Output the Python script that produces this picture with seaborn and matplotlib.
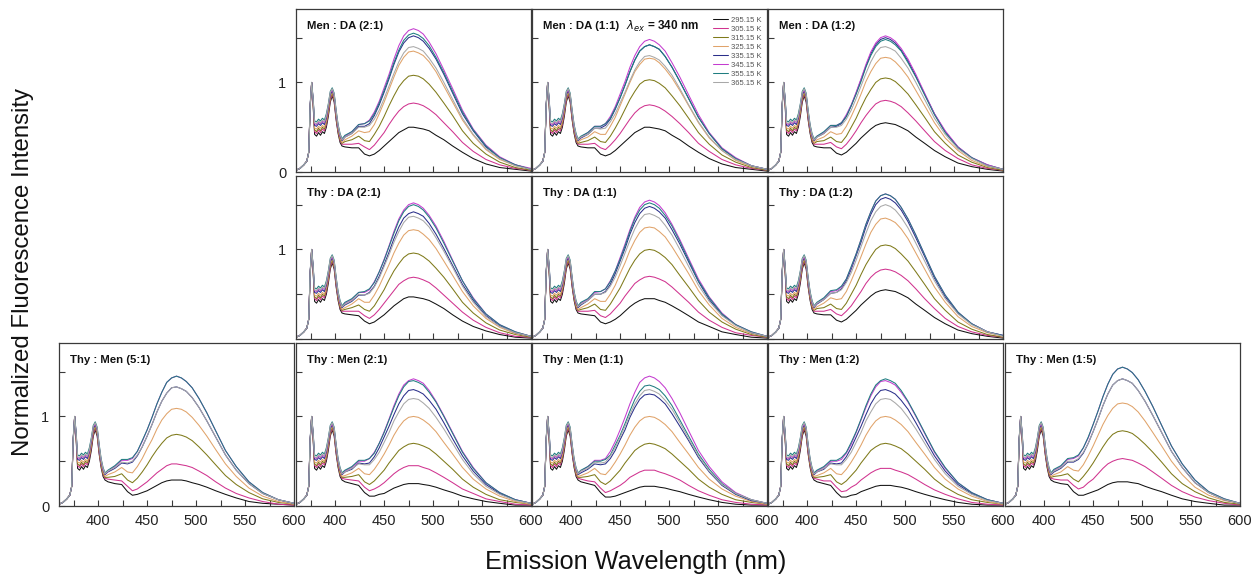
import matplotlib
matplotlib.use("Agg")
import matplotlib.pyplot as plt
import seaborn as sns

# ---------------- data ----------------
TEMPS = ["295.15 K", "305.15 K", "315.15 K", "325.15 K",
         "335.15 K", "345.15 K", "355.15 K", "365.15 K"]
COLORS = ["#111111", "#d0338f", "#7f7a1a", "#e0a36a",
          "#2a2f8a", "#c43ccf", "#1f7d80", "#a8a8a8"]

# monomer region (same for every panel, one list per temperature)
WL_MONO = [360, 364, 368, 371, 373, 374.5, 376, 377.5, 379, 381, 383, 385, 387,
           389, 391, 393, 395, 397, 399, 401, 403, 405, 407]
MONO = [
    [0.02, 0.04, 0.08, 0.12, 0.22, 0.72, 1.00, 0.74, 0.42, 0.40, 0.44, 0.41, 0.45, 0.43, 0.50, 0.62, 0.78, 0.85, 0.78, 0.58, 0.43, 0.33, 0.29],
    [0.02, 0.04, 0.08, 0.12, 0.22, 0.73, 1.00, 0.76, 0.45, 0.43, 0.47, 0.44, 0.48, 0.46, 0.53, 0.65, 0.80, 0.87, 0.80, 0.60, 0.45, 0.35, 0.31],
    [0.02, 0.04, 0.08, 0.12, 0.22, 0.74, 1.00, 0.77, 0.47, 0.45, 0.49, 0.46, 0.50, 0.48, 0.55, 0.67, 0.82, 0.88, 0.81, 0.62, 0.46, 0.36, 0.32],
    [0.02, 0.04, 0.08, 0.12, 0.22, 0.74, 1.00, 0.78, 0.49, 0.48, 0.51, 0.49, 0.52, 0.50, 0.57, 0.69, 0.84, 0.90, 0.83, 0.64, 0.48, 0.38, 0.33],
    [0.02, 0.04, 0.08, 0.12, 0.22, 0.75, 1.00, 0.80, 0.52, 0.51, 0.54, 0.52, 0.55, 0.53, 0.60, 0.72, 0.86, 0.91, 0.85, 0.66, 0.50, 0.40, 0.35],
    [0.02, 0.04, 0.08, 0.12, 0.22, 0.75, 1.00, 0.81, 0.54, 0.53, 0.56, 0.54, 0.57, 0.55, 0.62, 0.74, 0.88, 0.92, 0.86, 0.67, 0.51, 0.41, 0.36],
    [0.02, 0.04, 0.08, 0.12, 0.22, 0.76, 1.00, 0.82, 0.57, 0.56, 0.59, 0.57, 0.60, 0.58, 0.65, 0.76, 0.90, 0.94, 0.88, 0.69, 0.53, 0.43, 0.37],
    [0.02, 0.04, 0.08, 0.12, 0.22, 0.75, 1.00, 0.81, 0.55, 0.54, 0.57, 0.55, 0.58, 0.56, 0.63, 0.75, 0.89, 0.93, 0.87, 0.68, 0.52, 0.42, 0.36],
]

# excimer band region, one block per panel, one list per temperature
WL_BAND = [410, 417, 424, 430, 435, 440, 445, 450, 455, 460, 465, 470, 475,
           480, 485, 490, 496, 503, 511, 520, 530, 541, 554, 568, 584, 600]

MEN_DA_2_1 = [
    [0.28, 0.27, 0.27, 0.20, 0.18, 0.20, 0.24, 0.29, 0.34, 0.39, 0.44, 0.47, 0.50, 0.50, 0.49, 0.48, 0.46, 0.41, 0.36, 0.29, 0.22, 0.15, 0.09, 0.05, 0.03, 0.01],
    [0.31, 0.31, 0.32, 0.28, 0.25, 0.30, 0.37, 0.44, 0.53, 0.61, 0.68, 0.73, 0.76, 0.77, 0.76, 0.74, 0.70, 0.64, 0.55, 0.45, 0.33, 0.23, 0.14, 0.08, 0.04, 0.02],
    [0.34, 0.36, 0.40, 0.35, 0.34, 0.42, 0.51, 0.62, 0.74, 0.85, 0.95, 1.02, 1.07, 1.08, 1.07, 1.04, 0.98, 0.89, 0.77, 0.63, 0.46, 0.32, 0.20, 0.11, 0.05, 0.02],
    [0.36, 0.40, 0.46, 0.44, 0.45, 0.53, 0.65, 0.78, 0.92, 1.06, 1.19, 1.28, 1.34, 1.35, 1.33, 1.30, 1.23, 1.12, 0.96, 0.78, 0.58, 0.41, 0.25, 0.14, 0.07, 0.03],
    [0.39, 0.43, 0.51, 0.51, 0.54, 0.63, 0.75, 0.89, 1.04, 1.20, 1.34, 1.44, 1.50, 1.52, 1.50, 1.46, 1.38, 1.26, 1.09, 0.88, 0.65, 0.46, 0.28, 0.16, 0.08, 0.03],
    [0.40, 0.45, 0.53, 0.54, 0.58, 0.67, 0.79, 0.94, 1.09, 1.26, 1.41, 1.52, 1.58, 1.60, 1.58, 1.54, 1.45, 1.32, 1.14, 0.93, 0.69, 0.48, 0.30, 0.17, 0.08, 0.04],
    [0.41, 0.45, 0.53, 0.54, 0.57, 0.65, 0.77, 0.91, 1.06, 1.22, 1.36, 1.47, 1.53, 1.55, 1.53, 1.49, 1.41, 1.28, 1.11, 0.90, 0.67, 0.47, 0.29, 0.16, 0.08, 0.03],
    [0.39, 0.43, 0.50, 0.50, 0.52, 0.59, 0.69, 0.82, 0.96, 1.10, 1.23, 1.33, 1.39, 1.40, 1.38, 1.35, 1.27, 1.16, 1.00, 0.81, 0.60, 0.42, 0.26, 0.15, 0.07, 0.03],
]
MEN_DA_1_1 = [
    [0.28, 0.27, 0.27, 0.20, 0.18, 0.20, 0.24, 0.29, 0.34, 0.39, 0.44, 0.47, 0.50, 0.50, 0.49, 0.48, 0.46, 0.41, 0.36, 0.29, 0.22, 0.15, 0.09, 0.05, 0.03, 0.01],
    [0.31, 0.31, 0.32, 0.27, 0.25, 0.30, 0.36, 0.43, 0.51, 0.59, 0.66, 0.71, 0.74, 0.75, 0.74, 0.72, 0.68, 0.62, 0.54, 0.44, 0.32, 0.23, 0.14, 0.08, 0.04, 0.02],
    [0.33, 0.35, 0.39, 0.34, 0.33, 0.40, 0.49, 0.59, 0.70, 0.81, 0.90, 0.98, 1.02, 1.03, 1.02, 0.99, 0.94, 0.85, 0.74, 0.60, 0.44, 0.31, 0.19, 0.11, 0.05, 0.02],
    [0.36, 0.39, 0.45, 0.42, 0.42, 0.51, 0.61, 0.74, 0.87, 1.00, 1.12, 1.20, 1.26, 1.27, 1.26, 1.22, 1.15, 1.05, 0.91, 0.74, 0.55, 0.38, 0.24, 0.13, 0.06, 0.03],
    [0.38, 0.42, 0.49, 0.49, 0.52, 0.59, 0.70, 0.83, 0.97, 1.12, 1.25, 1.35, 1.40, 1.42, 1.40, 1.37, 1.29, 1.17, 1.01, 0.82, 0.61, 0.43, 0.26, 0.15, 0.07, 0.03],
    [0.39, 0.44, 0.51, 0.51, 0.54, 0.62, 0.73, 0.87, 1.01, 1.17, 1.30, 1.40, 1.46, 1.48, 1.46, 1.42, 1.35, 1.22, 1.06, 0.86, 0.64, 0.44, 0.27, 0.16, 0.07, 0.03],
    [0.40, 0.44, 0.51, 0.51, 0.54, 0.60, 0.71, 0.83, 0.97, 1.12, 1.25, 1.35, 1.40, 1.42, 1.40, 1.37, 1.29, 1.17, 1.01, 0.82, 0.61, 0.43, 0.26, 0.15, 0.07, 0.03],
    [0.39, 0.42, 0.49, 0.48, 0.49, 0.56, 0.65, 0.77, 0.89, 1.02, 1.14, 1.23, 1.29, 1.30, 1.28, 1.25, 1.18, 1.08, 0.93, 0.75, 0.56, 0.39, 0.24, 0.14, 0.07, 0.03],
]
MEN_DA_1_2 = [
    [0.28, 0.27, 0.27, 0.21, 0.19, 0.22, 0.27, 0.32, 0.38, 0.43, 0.48, 0.52, 0.54, 0.55, 0.54, 0.53, 0.50, 0.46, 0.39, 0.32, 0.24, 0.17, 0.10, 0.06, 0.03, 0.01],
    [0.31, 0.31, 0.33, 0.28, 0.26, 0.31, 0.38, 0.46, 0.55, 0.63, 0.70, 0.76, 0.79, 0.80, 0.79, 0.77, 0.73, 0.66, 0.57, 0.46, 0.34, 0.24, 0.15, 0.08, 0.04, 0.02],
    [0.34, 0.35, 0.39, 0.34, 0.33, 0.40, 0.50, 0.60, 0.72, 0.83, 0.92, 1.00, 1.04, 1.05, 1.04, 1.01, 0.95, 0.87, 0.75, 0.61, 0.45, 0.32, 0.19, 0.11, 0.05, 0.02],
    [0.36, 0.39, 0.45, 0.42, 0.43, 0.51, 0.62, 0.74, 0.87, 1.01, 1.12, 1.21, 1.27, 1.28, 1.27, 1.23, 1.16, 1.06, 0.91, 0.74, 0.55, 0.38, 0.24, 0.13, 0.06, 0.03],
    [0.39, 0.43, 0.50, 0.51, 0.54, 0.62, 0.74, 0.88, 1.03, 1.18, 1.32, 1.42, 1.48, 1.50, 1.48, 1.44, 1.36, 1.24, 1.07, 0.87, 0.65, 0.45, 0.28, 0.16, 0.08, 0.03],
    [0.40, 0.44, 0.52, 0.52, 0.55, 0.64, 0.75, 0.89, 1.04, 1.20, 1.34, 1.44, 1.50, 1.52, 1.50, 1.46, 1.38, 1.26, 1.09, 0.88, 0.65, 0.46, 0.28, 0.16, 0.08, 0.03],
    [0.40, 0.45, 0.52, 0.52, 0.55, 0.62, 0.74, 0.87, 1.01, 1.17, 1.30, 1.40, 1.46, 1.48, 1.46, 1.42, 1.35, 1.22, 1.06, 0.86, 0.64, 0.44, 0.27, 0.16, 0.07, 0.03],
    [0.39, 0.43, 0.50, 0.50, 0.52, 0.59, 0.69, 0.82, 0.96, 1.10, 1.23, 1.33, 1.39, 1.40, 1.38, 1.35, 1.27, 1.16, 1.00, 0.81, 0.60, 0.42, 0.26, 0.15, 0.07, 0.03],
]
THY_DA_2_1 = [
    [0.28, 0.27, 0.26, 0.20, 0.17, 0.19, 0.23, 0.27, 0.32, 0.37, 0.41, 0.45, 0.47, 0.47, 0.46, 0.45, 0.43, 0.39, 0.34, 0.27, 0.20, 0.14, 0.09, 0.05, 0.02, 0.01],
    [0.31, 0.31, 0.31, 0.26, 0.23, 0.27, 0.33, 0.40, 0.47, 0.54, 0.61, 0.65, 0.68, 0.69, 0.68, 0.66, 0.63, 0.57, 0.49, 0.40, 0.30, 0.21, 0.13, 0.07, 0.03, 0.02],
    [0.33, 0.35, 0.38, 0.33, 0.31, 0.37, 0.46, 0.55, 0.66, 0.76, 0.84, 0.91, 0.95, 0.96, 0.95, 0.92, 0.87, 0.79, 0.69, 0.56, 0.41, 0.29, 0.18, 0.10, 0.05, 0.02],
    [0.35, 0.39, 0.45, 0.41, 0.41, 0.49, 0.59, 0.71, 0.83, 0.96, 1.07, 1.16, 1.21, 1.22, 1.21, 1.17, 1.11, 1.01, 0.87, 0.71, 0.53, 0.37, 0.23, 0.13, 0.06, 0.03],
    [0.38, 0.42, 0.49, 0.49, 0.52, 0.59, 0.70, 0.83, 0.97, 1.12, 1.25, 1.35, 1.40, 1.42, 1.40, 1.37, 1.29, 1.17, 1.01, 0.82, 0.61, 0.43, 0.26, 0.15, 0.07, 0.03],
    [0.40, 0.44, 0.52, 0.52, 0.55, 0.64, 0.75, 0.89, 1.04, 1.20, 1.34, 1.44, 1.50, 1.52, 1.50, 1.46, 1.38, 1.26, 1.09, 0.88, 0.65, 0.46, 0.28, 0.16, 0.08, 0.03],
    [0.41, 0.45, 0.52, 0.53, 0.56, 0.63, 0.75, 0.88, 1.03, 1.18, 1.32, 1.42, 1.48, 1.50, 1.48, 1.44, 1.36, 1.24, 1.07, 0.87, 0.65, 0.45, 0.28, 0.16, 0.08, 0.03],
    [0.39, 0.43, 0.50, 0.49, 0.51, 0.58, 0.68, 0.81, 0.94, 1.08, 1.20, 1.30, 1.36, 1.37, 1.35, 1.32, 1.25, 1.13, 0.98, 0.80, 0.59, 0.41, 0.25, 0.14, 0.07, 0.03],
]
THY_DA_1_1 = [
    [0.28, 0.27, 0.26, 0.19, 0.17, 0.19, 0.22, 0.26, 0.31, 0.36, 0.40, 0.43, 0.45, 0.45, 0.45, 0.43, 0.41, 0.37, 0.32, 0.26, 0.19, 0.14, 0.08, 0.05, 0.02, 0.01],
    [0.31, 0.31, 0.32, 0.26, 0.24, 0.28, 0.34, 0.40, 0.48, 0.55, 0.62, 0.66, 0.69, 0.70, 0.69, 0.67, 0.64, 0.58, 0.50, 0.41, 0.30, 0.21, 0.13, 0.07, 0.04, 0.02],
    [0.33, 0.35, 0.39, 0.33, 0.32, 0.39, 0.48, 0.57, 0.68, 0.79, 0.88, 0.95, 0.99, 1.00, 0.99, 0.96, 0.91, 0.83, 0.71, 0.58, 0.43, 0.30, 0.19, 0.11, 0.05, 0.02],
    [0.35, 0.39, 0.45, 0.42, 0.42, 0.50, 0.60, 0.73, 0.85, 0.99, 1.10, 1.19, 1.24, 1.25, 1.24, 1.20, 1.14, 1.03, 0.89, 0.73, 0.54, 0.38, 0.23, 0.13, 0.06, 0.03],
    [0.38, 0.43, 0.50, 0.50, 0.53, 0.61, 0.73, 0.87, 1.01, 1.17, 1.30, 1.40, 1.46, 1.48, 1.46, 1.42, 1.35, 1.22, 1.06, 0.86, 0.64, 0.44, 0.27, 0.16, 0.07, 0.03],
    [0.40, 0.44, 0.52, 0.53, 0.56, 0.65, 0.76, 0.91, 1.06, 1.22, 1.36, 1.47, 1.53, 1.55, 1.53, 1.49, 1.41, 1.28, 1.11, 0.90, 0.67, 0.47, 0.29, 0.16, 0.08, 0.03],
    [0.41, 0.45, 0.53, 0.53, 0.56, 0.64, 0.76, 0.89, 1.04, 1.20, 1.34, 1.44, 1.50, 1.52, 1.50, 1.46, 1.38, 1.26, 1.09, 0.88, 0.65, 0.46, 0.28, 0.16, 0.08, 0.03],
    [0.39, 0.43, 0.50, 0.50, 0.52, 0.59, 0.69, 0.82, 0.96, 1.10, 1.23, 1.33, 1.39, 1.40, 1.38, 1.35, 1.27, 1.16, 1.00, 0.81, 0.60, 0.42, 0.26, 0.15, 0.07, 0.03],
]
THY_DA_1_2 = [
    [0.28, 0.27, 0.27, 0.21, 0.19, 0.22, 0.27, 0.32, 0.38, 0.43, 0.48, 0.52, 0.54, 0.55, 0.54, 0.53, 0.50, 0.46, 0.39, 0.32, 0.24, 0.17, 0.10, 0.06, 0.03, 0.01],
    [0.31, 0.31, 0.33, 0.28, 0.26, 0.31, 0.37, 0.45, 0.53, 0.62, 0.69, 0.74, 0.77, 0.78, 0.77, 0.75, 0.71, 0.65, 0.56, 0.45, 0.34, 0.23, 0.14, 0.08, 0.04, 0.02],
    [0.34, 0.35, 0.39, 0.34, 0.33, 0.40, 0.50, 0.60, 0.72, 0.83, 0.92, 1.00, 1.04, 1.05, 1.04, 1.01, 0.95, 0.87, 0.75, 0.61, 0.45, 0.32, 0.19, 0.11, 0.05, 0.02],
    [0.36, 0.40, 0.46, 0.44, 0.45, 0.53, 0.65, 0.78, 0.92, 1.06, 1.19, 1.28, 1.34, 1.35, 1.33, 1.30, 1.23, 1.12, 0.96, 0.78, 0.58, 0.41, 0.25, 0.14, 0.07, 0.03],
    [0.39, 0.44, 0.51, 0.52, 0.56, 0.65, 0.78, 0.93, 1.08, 1.25, 1.39, 1.50, 1.56, 1.58, 1.56, 1.52, 1.44, 1.31, 1.13, 0.92, 0.68, 0.47, 0.29, 0.17, 0.08, 0.04],
    [0.40, 0.45, 0.53, 0.54, 0.58, 0.67, 0.80, 0.95, 1.11, 1.28, 1.42, 1.54, 1.60, 1.62, 1.60, 1.56, 1.47, 1.34, 1.16, 0.94, 0.70, 0.49, 0.30, 0.17, 0.08, 0.04],
    [0.41, 0.46, 0.54, 0.55, 0.59, 0.67, 0.81, 0.95, 1.11, 1.28, 1.42, 1.54, 1.60, 1.62, 1.60, 1.56, 1.47, 1.34, 1.16, 0.94, 0.70, 0.49, 0.30, 0.17, 0.08, 0.04],
    [0.40, 0.44, 0.51, 0.52, 0.55, 0.63, 0.74, 0.88, 1.03, 1.18, 1.32, 1.42, 1.48, 1.50, 1.48, 1.44, 1.36, 1.24, 1.07, 0.87, 0.65, 0.45, 0.28, 0.16, 0.08, 0.03],
]
THY_MEN_5_1 = [
    [0.27, 0.25, 0.24, 0.16, 0.12, 0.13, 0.15, 0.17, 0.20, 0.23, 0.26, 0.28, 0.29, 0.29, 0.29, 0.28, 0.26, 0.24, 0.21, 0.17, 0.13, 0.09, 0.05, 0.03, 0.02, 0.01],
    [0.30, 0.29, 0.28, 0.22, 0.17, 0.19, 0.23, 0.27, 0.32, 0.37, 0.41, 0.45, 0.47, 0.47, 0.46, 0.45, 0.43, 0.39, 0.34, 0.27, 0.20, 0.14, 0.09, 0.05, 0.02, 0.01],
    [0.32, 0.33, 0.36, 0.29, 0.26, 0.31, 0.38, 0.46, 0.55, 0.63, 0.70, 0.76, 0.79, 0.80, 0.79, 0.77, 0.73, 0.66, 0.57, 0.46, 0.34, 0.24, 0.15, 0.08, 0.04, 0.02],
    [0.35, 0.38, 0.43, 0.38, 0.37, 0.44, 0.53, 0.64, 0.74, 0.86, 0.96, 1.03, 1.08, 1.09, 1.08, 1.05, 0.99, 0.90, 0.78, 0.63, 0.47, 0.33, 0.20, 0.11, 0.05, 0.02],
    [0.38, 0.42, 0.48, 0.47, 0.49, 0.56, 0.66, 0.78, 0.91, 1.05, 1.17, 1.26, 1.32, 1.33, 1.31, 1.28, 1.21, 1.10, 0.95, 0.77, 0.57, 0.40, 0.25, 0.14, 0.07, 0.03],
    [0.39, 0.44, 0.51, 0.51, 0.53, 0.61, 0.72, 0.85, 0.99, 1.14, 1.27, 1.38, 1.43, 1.45, 1.43, 1.39, 1.32, 1.20, 1.04, 0.84, 0.62, 0.44, 0.27, 0.15, 0.07, 0.03],
    [0.40, 0.45, 0.52, 0.52, 0.54, 0.61, 0.73, 0.85, 0.99, 1.14, 1.27, 1.38, 1.43, 1.45, 1.43, 1.39, 1.32, 1.20, 1.04, 0.84, 0.62, 0.44, 0.27, 0.15, 0.07, 0.03],
    [0.39, 0.43, 0.49, 0.48, 0.50, 0.57, 0.66, 0.78, 0.91, 1.05, 1.17, 1.26, 1.32, 1.33, 1.31, 1.28, 1.21, 1.10, 0.95, 0.77, 0.57, 0.40, 0.25, 0.14, 0.07, 0.03],
]
THY_MEN_2_1 = [
    [0.27, 0.25, 0.23, 0.15, 0.11, 0.11, 0.13, 0.14, 0.17, 0.20, 0.22, 0.24, 0.25, 0.25, 0.25, 0.24, 0.23, 0.21, 0.18, 0.15, 0.11, 0.08, 0.05, 0.03, 0.01, 0.01],
    [0.30, 0.29, 0.28, 0.21, 0.17, 0.19, 0.22, 0.26, 0.31, 0.36, 0.40, 0.43, 0.45, 0.45, 0.45, 0.43, 0.41, 0.37, 0.32, 0.26, 0.19, 0.14, 0.08, 0.05, 0.02, 0.01],
    [0.32, 0.33, 0.35, 0.27, 0.24, 0.28, 0.34, 0.40, 0.48, 0.55, 0.62, 0.66, 0.69, 0.70, 0.69, 0.67, 0.64, 0.58, 0.50, 0.41, 0.30, 0.21, 0.13, 0.07, 0.04, 0.02],
    [0.34, 0.37, 0.42, 0.36, 0.35, 0.41, 0.49, 0.58, 0.68, 0.79, 0.88, 0.95, 0.99, 1.00, 0.99, 0.96, 0.91, 0.83, 0.71, 0.58, 0.43, 0.30, 0.19, 0.11, 0.05, 0.02],
    [0.38, 0.41, 0.48, 0.47, 0.48, 0.55, 0.65, 0.77, 0.89, 1.02, 1.14, 1.23, 1.29, 1.30, 1.28, 1.25, 1.18, 1.08, 0.93, 0.75, 0.56, 0.39, 0.24, 0.14, 0.07, 0.03],
    [0.39, 0.43, 0.50, 0.50, 0.53, 0.60, 0.70, 0.83, 0.97, 1.12, 1.25, 1.35, 1.40, 1.42, 1.40, 1.37, 1.29, 1.17, 1.01, 0.82, 0.61, 0.43, 0.26, 0.15, 0.07, 0.03],
    [0.40, 0.44, 0.51, 0.51, 0.53, 0.59, 0.70, 0.82, 0.96, 1.10, 1.23, 1.33, 1.39, 1.40, 1.38, 1.35, 1.27, 1.16, 1.00, 0.81, 0.60, 0.42, 0.26, 0.15, 0.07, 0.03],
    [0.38, 0.42, 0.47, 0.46, 0.46, 0.52, 0.60, 0.71, 0.82, 0.95, 1.05, 1.14, 1.19, 1.20, 1.19, 1.15, 1.09, 0.99, 0.86, 0.70, 0.52, 0.36, 0.22, 0.13, 0.06, 0.03],
]
THY_MEN_1_1 = [
    [0.27, 0.25, 0.23, 0.15, 0.10, 0.10, 0.11, 0.13, 0.15, 0.17, 0.19, 0.21, 0.22, 0.22, 0.22, 0.21, 0.20, 0.18, 0.16, 0.13, 0.10, 0.07, 0.04, 0.02, 0.01, 0.01],
    [0.30, 0.28, 0.27, 0.20, 0.15, 0.17, 0.20, 0.23, 0.27, 0.32, 0.35, 0.38, 0.40, 0.40, 0.40, 0.38, 0.36, 0.33, 0.29, 0.23, 0.17, 0.12, 0.07, 0.04, 0.02, 0.01],
    [0.32, 0.33, 0.35, 0.27, 0.24, 0.28, 0.34, 0.40, 0.48, 0.55, 0.62, 0.66, 0.69, 0.70, 0.69, 0.67, 0.64, 0.58, 0.50, 0.41, 0.30, 0.21, 0.13, 0.07, 0.04, 0.02],
    [0.34, 0.37, 0.42, 0.36, 0.35, 0.41, 0.49, 0.58, 0.68, 0.79, 0.88, 0.95, 0.99, 1.00, 0.99, 0.96, 0.91, 0.83, 0.71, 0.58, 0.43, 0.30, 0.19, 0.11, 0.05, 0.02],
    [0.37, 0.41, 0.47, 0.46, 0.47, 0.53, 0.62, 0.74, 0.85, 0.99, 1.10, 1.19, 1.24, 1.25, 1.24, 1.20, 1.14, 1.03, 0.89, 0.73, 0.54, 0.38, 0.23, 0.13, 0.06, 0.03],
    [0.39, 0.44, 0.51, 0.51, 0.53, 0.61, 0.72, 0.85, 0.99, 1.14, 1.27, 1.38, 1.43, 1.45, 1.43, 1.39, 1.32, 1.20, 1.04, 0.84, 0.62, 0.44, 0.27, 0.15, 0.07, 0.03],
    [0.40, 0.44, 0.50, 0.50, 0.52, 0.57, 0.68, 0.79, 0.92, 1.06, 1.19, 1.28, 1.34, 1.35, 1.33, 1.30, 1.23, 1.12, 0.96, 0.78, 0.58, 0.41, 0.25, 0.14, 0.07, 0.03],
    [0.39, 0.42, 0.49, 0.48, 0.49, 0.56, 0.65, 0.77, 0.89, 1.02, 1.14, 1.23, 1.29, 1.30, 1.28, 1.25, 1.18, 1.08, 0.93, 0.75, 0.56, 0.39, 0.24, 0.14, 0.07, 0.03],
]
THY_MEN_1_2 = [
    [0.27, 0.25, 0.23, 0.15, 0.10, 0.10, 0.12, 0.13, 0.16, 0.18, 0.20, 0.22, 0.23, 0.23, 0.23, 0.22, 0.21, 0.19, 0.16, 0.13, 0.10, 0.07, 0.04, 0.02, 0.01, 0.01],
    [0.30, 0.28, 0.28, 0.21, 0.16, 0.17, 0.21, 0.24, 0.29, 0.33, 0.37, 0.40, 0.42, 0.42, 0.42, 0.40, 0.38, 0.35, 0.30, 0.24, 0.18, 0.13, 0.08, 0.04, 0.02, 0.01],
    [0.32, 0.33, 0.35, 0.27, 0.24, 0.28, 0.34, 0.40, 0.48, 0.55, 0.62, 0.66, 0.69, 0.70, 0.69, 0.67, 0.64, 0.58, 0.50, 0.41, 0.30, 0.21, 0.13, 0.07, 0.04, 0.02],
    [0.34, 0.37, 0.42, 0.36, 0.35, 0.41, 0.49, 0.58, 0.68, 0.79, 0.88, 0.95, 0.99, 1.00, 0.99, 0.96, 0.91, 0.83, 0.71, 0.58, 0.43, 0.30, 0.19, 0.11, 0.05, 0.02],
    [0.38, 0.41, 0.48, 0.47, 0.48, 0.55, 0.65, 0.77, 0.89, 1.02, 1.14, 1.23, 1.29, 1.30, 1.28, 1.25, 1.18, 1.08, 0.93, 0.75, 0.56, 0.39, 0.24, 0.14, 0.07, 0.03],
    [0.39, 0.43, 0.50, 0.50, 0.52, 0.59, 0.69, 0.82, 0.96, 1.10, 1.23, 1.33, 1.39, 1.40, 1.38, 1.35, 1.27, 1.16, 1.00, 0.81, 0.60, 0.42, 0.26, 0.15, 0.07, 0.03],
    [0.40, 0.44, 0.51, 0.51, 0.54, 0.60, 0.71, 0.83, 0.97, 1.12, 1.25, 1.35, 1.40, 1.42, 1.40, 1.37, 1.29, 1.17, 1.01, 0.82, 0.61, 0.43, 0.26, 0.15, 0.07, 0.03],
    [0.38, 0.42, 0.47, 0.46, 0.46, 0.52, 0.60, 0.71, 0.82, 0.95, 1.05, 1.14, 1.19, 1.20, 1.19, 1.15, 1.09, 0.99, 0.86, 0.70, 0.52, 0.36, 0.22, 0.13, 0.06, 0.03],
]
THY_MEN_1_5 = [
    [0.27, 0.25, 0.24, 0.16, 0.12, 0.12, 0.14, 0.16, 0.18, 0.21, 0.24, 0.26, 0.27, 0.27, 0.27, 0.26, 0.25, 0.22, 0.19, 0.16, 0.12, 0.08, 0.05, 0.03, 0.01, 0.01],
    [0.30, 0.29, 0.29, 0.23, 0.19, 0.21, 0.26, 0.30, 0.36, 0.42, 0.47, 0.50, 0.52, 0.53, 0.52, 0.51, 0.48, 0.44, 0.38, 0.31, 0.23, 0.16, 0.10, 0.06, 0.03, 0.01],
    [0.33, 0.34, 0.36, 0.30, 0.27, 0.33, 0.40, 0.48, 0.57, 0.66, 0.74, 0.80, 0.83, 0.84, 0.83, 0.81, 0.76, 0.69, 0.60, 0.49, 0.36, 0.25, 0.16, 0.09, 0.04, 0.02],
    [0.35, 0.38, 0.44, 0.40, 0.39, 0.46, 0.56, 0.67, 0.79, 0.91, 1.01, 1.09, 1.14, 1.15, 1.14, 1.11, 1.05, 0.95, 0.82, 0.67, 0.50, 0.35, 0.21, 0.12, 0.06, 0.03],
    [0.38, 0.42, 0.49, 0.49, 0.52, 0.59, 0.70, 0.83, 0.97, 1.12, 1.25, 1.35, 1.40, 1.42, 1.40, 1.37, 1.29, 1.17, 1.01, 0.82, 0.61, 0.43, 0.26, 0.15, 0.07, 0.03],
    [0.40, 0.44, 0.52, 0.53, 0.56, 0.65, 0.76, 0.91, 1.06, 1.22, 1.36, 1.47, 1.53, 1.55, 1.53, 1.49, 1.41, 1.28, 1.11, 0.90, 0.67, 0.47, 0.29, 0.16, 0.08, 0.03],
    [0.41, 0.45, 0.53, 0.54, 0.57, 0.65, 0.77, 0.91, 1.06, 1.22, 1.36, 1.47, 1.53, 1.55, 1.53, 1.49, 1.41, 1.28, 1.11, 0.90, 0.67, 0.47, 0.29, 0.16, 0.08, 0.03],
    [0.39, 0.43, 0.50, 0.50, 0.53, 0.60, 0.70, 0.83, 0.97, 1.12, 1.25, 1.35, 1.40, 1.42, 1.40, 1.37, 1.29, 1.17, 1.01, 0.82, 0.61, 0.43, 0.26, 0.15, 0.07, 0.03],
]

PANEL_TITLES = ["Men : DA (2:1)", "Men : DA (1:1)", "Men : DA (1:2)",
                "Thy : DA (2:1)", "Thy : DA (1:1)", "Thy : DA (1:2)",
                "Thy : Men (5:1)", "Thy : Men (2:1)", "Thy : Men (1:1)",
                "Thy : Men (1:2)", "Thy : Men (1:5)"]
PANEL_DATA = [MEN_DA_2_1, MEN_DA_1_1, MEN_DA_1_2,
              THY_DA_2_1, THY_DA_1_1, THY_DA_1_2,
              THY_MEN_5_1, THY_MEN_2_1, THY_MEN_1_1, THY_MEN_1_2, THY_MEN_1_5]

X_TICKS = [375, 400, 425, 450, 475, 500, 525, 550, 575, 600]
X_TICK_LABELS = ["", "400", "", "450", "", "500", "", "550", "", "600"]
Y_TICKS = [0, 0.5, 1, 1.5]

# ---------------- layout ----------------
sns.set_style("ticks")
plt.rcParams["font.family"] = ["Liberation Sans", "DejaVu Sans"]

W, H = 1258, 575
fig = plt.figure(figsize=(W / 100, H / 100), dpi=100)

COL_LEFT = [59, 296, 532, 768, 1005]
ROW_TOP = [9, 176, 343]
PW, PH = 235, 163
GRID_POS = [(0, 1), (0, 2), (0, 3), (1, 1), (1, 2), (1, 3),
            (2, 0), (2, 1), (2, 2), (2, 3), (2, 4)]

SPINE = "#3a3a3a"
x_all = WL_MONO + WL_BAND

for k, (title, data) in enumerate(zip(PANEL_TITLES, PANEL_DATA)):
    r, c = GRID_POS[k]
    left = COL_LEFT[c] / W
    bottom = 1 - (ROW_TOP[r] + PH) / H
    ax = fig.add_axes([left, bottom, PW / W, PH / H])
    for t in range(8):
        sns.lineplot(x=x_all, y=MONO[t] + data[t], ax=ax, color=COLORS[t],
                     linewidth=0.75, estimator=None, sort=False,
                     label=TEMPS[t], legend=False)
    ax.set_xlim(360, 600)
    ax.set_ylim(0, 1.82)
    ax.set_xlabel("")
    ax.set_ylabel("")
    ax.set_xticks(X_TICKS)
    if r == 2:
        ax.set_xticklabels(X_TICK_LABELS)
    else:
        ax.set_xticklabels([""] * len(X_TICKS))
    ax.set_yticks(Y_TICKS)
    first_in_row = (c == 1 and r in (0, 1)) or (c == 0 and r == 2)
    if first_in_row:
        if r == 1:
            ax.set_yticklabels(["", "", "1", ""])
        else:
            ax.set_yticklabels(["0", "", "1", ""])
    else:
        ax.set_yticklabels([""] * 4)
    ax.tick_params(axis="both", direction="in", length=4, width=0.8,
                   color=SPINE, labelsize=10.5, labelcolor="#222222")
    ax.tick_params(axis="x", pad=6)
    ax.tick_params(axis="y", pad=7)
    for s in ax.spines.values():
        s.set_color(SPINE)
        s.set_linewidth(0.9)
    ax.text(0.045, 0.895, title, transform=ax.transAxes, fontsize=8.2,
            fontweight="bold", color="#111111", va="center", ha="left")
    if k == 1:
        ax.text(0.40, 0.89, r"$\lambda_{ex}$ = 340 nm", transform=ax.transAxes,
                fontsize=8.5, fontweight="bold", color="#111111",
                va="center", ha="left")
        handles, labels = ax.get_legend_handles_labels()
        leg = ax.legend(handles, labels, loc="upper left",
                        bbox_to_anchor=(0.77, 0.955), frameon=False,
                        fontsize=5.5, handlelength=2.0, handletextpad=0.4,
                        labelspacing=0.22, borderpad=0, borderaxespad=0)
        for txt in leg.get_texts():
            txt.set_color("#555555")

fig.text(0.018, 0.527, "Normalized Fluorescence Intensity", rotation=90,
         ha="center", va="center", fontsize=17.3, color="#111111")
fig.text(0.505, 0.022, "Emission Wavelength (nm)", ha="center", va="center",
         fontsize=18.2, color="#111111")

fig.savefig("out.png", dpi=100, facecolor="white")
